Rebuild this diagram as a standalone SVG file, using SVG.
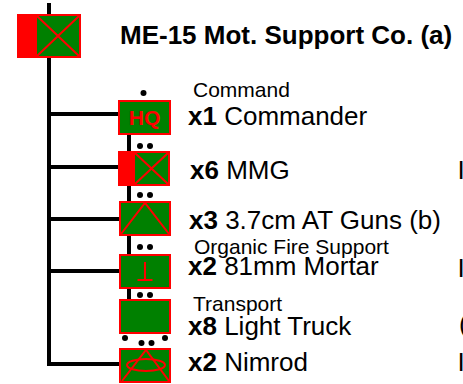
<svg xmlns="http://www.w3.org/2000/svg" width="463" height="384" viewBox="0 0 463 384">
<style>
.box{fill:#008000;stroke:#ff0000;stroke-width:2}
.red{fill:#ff0000;stroke:none}
.sym{fill:none;stroke:#ff0000;stroke-width:2}
.line{stroke:#000;stroke-width:4;fill:none}
.dot{fill:#000}
text{font-family:"Liberation Sans",Arial,sans-serif;fill:#000}
.big{font-size:26px}
.small{font-size:21px}
.b{font-weight:bold}
.title{font-size:26px;font-weight:bold}
.hq{font-size:21px;font-weight:bold;fill:#ff0000}
</style>
<rect width="463" height="384" fill="#fff"/>
<g id="connectors">
  <path class="line" d="M49,3 V364 H121"/>
  <path class="line" d="M49,114 H120"/>
  <path class="line" d="M49,167 H120"/>
  <path class="line" d="M49,219 H121"/>
  <path class="line" d="M49,271 H121"/>
  <path class="line" d="M129,134 V300"/>
</g>
<g id="company">
  <rect class="box" x="18" y="15" width="62" height="42"/>
  <rect class="red" x="18" y="15" width="19" height="42"/>
  <path class="sym" d="M37,16 L79,56 M37,56 L79,16"/>
  <text class="title" x="120" y="44">ME-15 Mot. Support Co. (a)</text>
</g>
<g id="hq">
  <circle class="dot" cx="143.5" cy="93" r="3"/>
  <rect class="box" x="119" y="101" width="51" height="33"/>
  <text class="hq" x="144.5" y="125" text-anchor="middle">HQ</text>
  <text class="small" x="193" y="97">Command</text>
  <text class="big" x="188" y="125"><tspan class="b">x1</tspan> Commander</text>
</g>
<g id="mmg">
  <circle class="dot" cx="140" cy="146" r="3"/>
  <circle class="dot" cx="150" cy="146" r="3"/>
  <rect class="box" x="119" y="152" width="50" height="33"/>
  <rect class="red" x="119" y="152" width="16" height="33"/>
  <path class="sym" d="M135,153 L168,184 M135,184 L168,153"/>
  <text class="big" x="190" y="179"><tspan class="b">x6</tspan> MMG</text>
  <text class="big" x="457.5" y="179">I</text>
</g>
<g id="atguns">
  <circle class="dot" cx="140" cy="195" r="3"/>
  <circle class="dot" cx="150" cy="195" r="3"/>
  <rect class="box" x="120" y="202" width="50" height="33"/>
  <path class="sym" d="M121,234 L145,203 L169,234"/>
  <text class="big" x="189" y="229"><tspan class="b">x3</tspan> 3.7cm AT Guns (b)</text>
</g>
<g id="mortar">
  <circle class="dot" cx="140" cy="247" r="3"/>
  <circle class="dot" cx="150" cy="247" r="3"/>
  <rect class="box" x="120" y="255" width="50" height="33"/>
  <path class="sym" d="M145,262 V280 M137.5,280 H152.5"/>
  <text class="small" x="194" y="254">Organic Fire Support</text>
  <text class="big" x="188" y="275"><tspan class="b">x2</tspan> 81mm Mortar</text>
  <text class="big" x="457.5" y="277">I</text>
</g>
<g id="truck">
  <circle class="dot" cx="140" cy="295" r="3"/>
  <circle class="dot" cx="150" cy="295" r="3"/>
  <rect class="box" x="120" y="300" width="50" height="33"/>
  <circle class="dot" cx="125" cy="338" r="3"/>
  <circle class="dot" cx="165" cy="338" r="3"/>
  <text class="small" x="193" y="311">Transport</text>
  <text class="big" x="188" y="335"><tspan class="b">x8</tspan> Light Truck</text>
  <text class="big" x="459" y="333">(</text>
</g>
<g id="nimrod">
  <circle class="dot" cx="141.5" cy="343" r="3"/>
  <circle class="dot" cx="151.5" cy="343" r="3"/>
  <rect class="box" x="120" y="349" width="50" height="33"/>
  <ellipse class="sym" cx="146" cy="365" rx="19" ry="6"/>
  <path class="sym" d="M122,381 L146,350 L169,381"/>
  <text class="big" x="188" y="371"><tspan class="b">x2</tspan> Nimrod</text>
  <text class="big" x="457.5" y="371">I</text>
</g>
</svg>
